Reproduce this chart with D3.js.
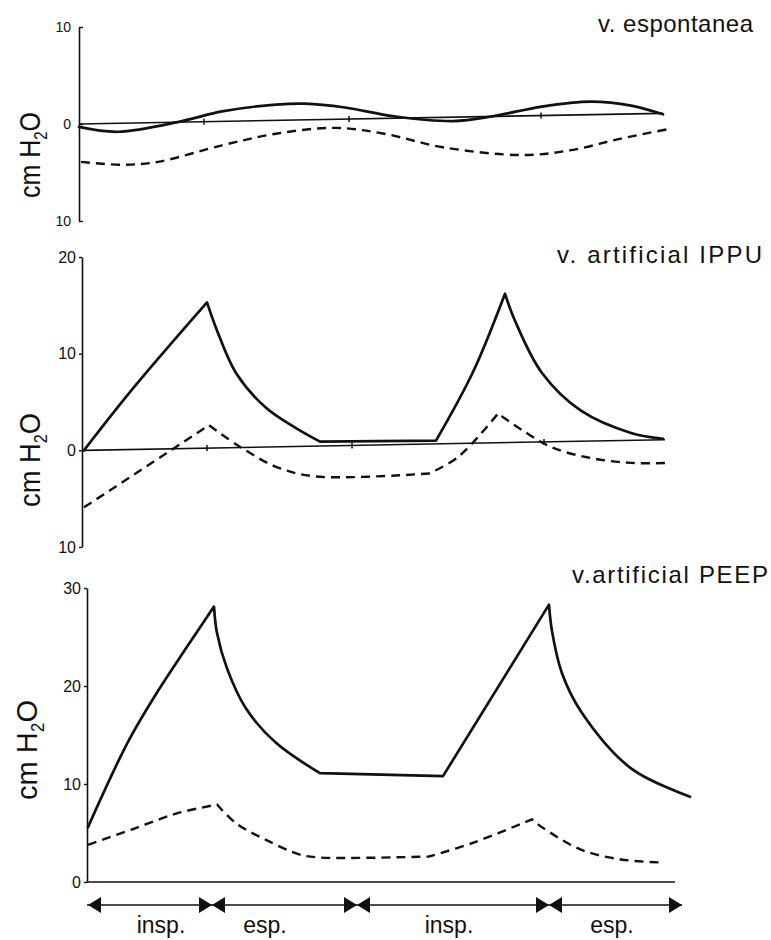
<!DOCTYPE html>
<html>
<head>
<meta charset="utf-8">
<script src="https://cdn.jsdelivr.net/npm/d3@7"></script>
<style>
  body { margin: 0; background: #fff; }
  svg { display: block; font-family: "Liberation Sans", Arial, Helvetica, sans-serif; }
</style>
</head>
<body>
<svg id="chart" width="771" height="940"></svg>
<script>
// time runs 0..6 (arbitrary units) across every panel
const phaseBounds = [1.25, 2.7, 4.62];
const phaseEnd = 5.95;
const phaseLabels = ['insp.', 'esp.', 'insp.', 'esp.'];
const phaseLabelT = [0.74, 1.78, 3.62, 5.25];

// v. espontanea (cm H2O, downward = negative)
const spontTicks = [-10, 0, 10];
const spontSolid = [[0, -0.3], [0.39, -0.8], [1.03, 0.3], [1.43, 1.3], [1.97, 2.0], [2.26, 2.1], [2.66, 1.7],
  [3.15, 0.8], [3.74, 0.3], [4.14, 0.8], [4.63, 1.8], [5.12, 2.3], [5.52, 1.9], [5.84, 1.0]];
const spontDashed = [[0.02, -3.9], [0.44, -4.2], [0.79, -3.9], [1.43, -2.2], [1.97, -1.0], [2.56, -0.4],
  [3.05, -1.0], [3.64, -2.4], [4.43, -3.2], [4.92, -2.7], [5.42, -1.5], [5.91, -0.5]];
const spontBase = [[0, 0], [5.84, 1.1]];

// v. artificial IPPU
const ippuTicks = [-10, 0, 10, 20];
const ippuSolid = [[0.02, 0], [0.51, 6.4], [1.25, 15.3], [1.35, 12.4], [1.54, 8.0], [1.84, 4.4], [2.14, 2.3],
  [2.38, 0.9], [3.54, 1.0], [3.91, 8.1], [4.23, 16.2], [4.33, 13.4], [4.6, 8.0], [4.99, 4.1], [5.49, 1.8], [5.81, 1.2]];
const ippuSolidCorners = [1.25, 2.38, 3.54, 4.23];
const ippuDashed = [[0.02, -5.9], [1.27, 2.6], [1.59, 0.3], [1.94, -1.7], [2.33, -2.7], [3.47, -2.4], [3.76, -0.7],
  [4.16, 3.8], [4.4, 2.1], [4.7, 0.3], [5.09, -0.8], [5.49, -1.3], [5.88, -1.3]];
const ippuDashedCorners = [1.27, 3.47, 4.16];
const ippuBase = [[0.02, 0], [5.83, 1.1]];

// v. artificial PEEP
const peepTicks = [0, 10, 20, 30];
const peepSolid = [[0.01, 5.6], [0.41, 14.3], [0.71, 19.5], [1.0, 24.0], [1.27, 28.1], [1.3, 25.4], [1.4, 21.8],
  [1.59, 17.7], [1.89, 14.2], [2.33, 11.1], [3.56, 10.8], [4.62, 28.3], [4.65, 25.6], [4.75, 21.3], [4.94, 17.4],
  [5.44, 11.6], [6.03, 8.7]];
const peepSolidCorners = [1.27, 2.33, 3.56, 4.62];
const peepDashed = [[0.01, 3.8], [0.46, 5.4], [0.9, 7.0], [1.3, 7.9], [1.49, 6.0], [1.79, 4.3], [2.13, 2.8],
  [2.33, 2.5], [3.42, 2.6], [3.86, 4.0], [4.45, 6.4], [4.55, 5.6], [4.94, 3.3], [5.34, 2.3], [5.73, 2.0]];
const peepDashedCorners = [1.3, 3.42, 4.45];
const peepBase = [[0, 0], [5.88, 0]];

const ink = '#111';

const panels = [
  { title: 'v. espontanea', titleX: 598, titleY: 32, titleLen: 155,
    x0: 79, domain: [-10, 10], range: [221, 27], ticks: spontTicks, tickSize: -4, tickPad: 8, tickFont: 14,
    solid: spontSolid, solidCorners: [], dashed: spontDashed, dashedCorners: [], base: spontBase, baseTicks: true,
    labelX: 40, labelY: 155, labelLen: 86 },
  { title: 'v. artificial IPPU', titleX: 557, titleY: 263, titleLen: 205,
    x0: 82, domain: [-10, 20], range: [547, 257], ticks: ippuTicks, tickSize: 3, tickPad: 3, tickFont: 16,
    solid: ippuSolid, solidCorners: ippuSolidCorners, dashed: ippuDashed, dashedCorners: ippuDashedCorners,
    base: ippuBase, baseTicks: true,
    labelX: 40, labelY: 460, labelLen: 94 },
  { title: 'v.artificial PEEP', titleX: 572, titleY: 583, titleLen: 196,
    x0: 87, domain: [0, 30], range: [882, 588], ticks: peepTicks, tickSize: 3, tickPad: 3, tickFont: 16,
    solid: peepSolid, solidCorners: peepSolidCorners, dashed: peepDashed, dashedCorners: peepDashedCorners,
    base: peepBase, baseTicks: false,
    labelX: 37, labelY: 750, labelLen: 100 }
];

const svg = d3.select('#chart');
svg.append('rect').attr('width', 771).attr('height', 940).attr('fill', '#fff');

// join curve pieces so the peaks stay sharp but the dashes keep running
function cuspPath(line, pts, corners) {
  const parts = [];
  let cur = [];
  pts.forEach(p => {
    cur.push(p);
    if (corners.includes(p[0]) && cur.length > 1) {
      parts.push(cur);
      cur = [p];
    }
  });
  if (cur.length > 1) parts.push(cur);
  return parts.map((part, i) => {
    const d = line(part);
    return i === 0 ? d : d.replace(/^M[^LC]*/, '');
  }).join('');
}

let lastX, lastY;

panels.forEach(p => {
  const x = d3.scaleLinear().domain([0, 6]).range([p.x0, p.x0 + 600]);
  const y = d3.scaleLinear().domain(p.domain).range(p.range);
  lastX = x; lastY = y;

  const g = svg.append('g');

  // y axis
  const axis = g.append('g')
    .attr('transform', `translate(${p.x0},0)`)
    .call(d3.axisLeft(y)
      .tickValues(p.ticks)
      .tickSizeInner(p.tickSize)
      .tickSizeOuter(0)
      .tickPadding(p.tickPad)
      .tickFormat(d => Math.abs(d)));
  axis.select('.domain').attr('stroke', ink).attr('stroke-width', 1.6);
  axis.selectAll('.tick line').attr('stroke', ink).attr('stroke-width', 1.4);
  axis.selectAll('.tick text')
    .attr('fill', ink)
    .style('font-size', p.tickFont + 'px')
    .style('font-family', '"Liberation Sans", Arial, sans-serif');

  const line = d3.line().x(d => x(d[0])).y(d => y(d[1])).curve(d3.curveCatmullRom.alpha(0.5));

  // zero line
  g.append('path')
    .attr('d', d3.line().x(d => x(d[0])).y(d => y(d[1]))(p.base))
    .attr('fill', 'none')
    .attr('stroke', ink)
    .attr('stroke-width', 1.6);

  if (p.baseTicks) {
    const bx = p.base.map(d => d[0]);
    const by = p.base.map(d => d[1]);
    phaseBounds.forEach(t => {
      const v = by[0] + (by[1] - by[0]) * (t - bx[0]) / (bx[1] - bx[0]);
      g.append('line')
        .attr('x1', x(t)).attr('x2', x(t))
        .attr('y1', y(v) - 3).attr('y2', y(v) + 3)
        .attr('stroke', ink).attr('stroke-width', 1.5);
    });
  }

  // dashed curve
  g.append('path')
    .attr('d', cuspPath(line, p.dashed, p.dashedCorners))
    .attr('fill', 'none')
    .attr('stroke', ink)
    .attr('stroke-width', 2.4)
    .attr('stroke-dasharray', '9,6');

  // solid curve
  g.append('path')
    .attr('d', cuspPath(line, p.solid, p.solidCorners))
    .attr('fill', 'none')
    .attr('stroke', ink)
    .attr('stroke-width', 2.7)
    .attr('stroke-linejoin', 'round')
    .attr('stroke-linecap', 'round');

  // panel title
  g.append('text')
    .attr('x', p.titleX)
    .attr('y', p.titleY)
    .attr('textLength', p.titleLen)
    .attr('lengthAdjust', 'spacing')
    .attr('fill', ink)
    .style('font-size', '24px')
    .text(p.title);

  // y label
  const lab = g.append('text')
    .attr('transform', `translate(${p.labelX},${p.labelY}) rotate(-90)`)
    .attr('text-anchor', 'middle')
    .attr('textLength', p.labelLen)
    .attr('lengthAdjust', 'spacingAndGlyphs')
    .attr('fill', ink)
    .style('font-size', '30px');
  lab.append('tspan').text('cm H');
  lab.append('tspan').attr('dy', 7).style('font-size', '18px').text('2');
  lab.append('tspan').attr('dy', -7).text('O');
});

// phase arrows under the last panel
const ay = lastY(0) + 23;
const ag = svg.append('g');
ag.append('line')
  .attr('x1', lastX(0)).attr('x2', lastX(phaseEnd))
  .attr('y1', ay).attr('y2', ay)
  .attr('stroke', ink).attr('stroke-width', 1.5);

const tri = (tip, dir) => {
  const b = tip - dir * 13;
  return `M${tip},${ay}L${b},${ay - 8}L${b},${ay + 8}Z`;
};
ag.append('path').attr('d', tri(lastX(0) + 1, -1)).attr('fill', ink);
ag.append('path').attr('d', tri(lastX(phaseEnd), 1)).attr('fill', ink);
phaseBounds.forEach(t => {
  ag.append('path').attr('d', tri(lastX(t), 1)).attr('fill', ink);
  ag.append('path').attr('d', tri(lastX(t), -1)).attr('fill', ink);
});

ag.selectAll('.phase')
  .data(phaseLabels)
  .enter()
  .append('text')
  .attr('class', 'phase')
  .attr('x', (d, i) => lastX(phaseLabelT[i]))
  .attr('y', 933)
  .attr('text-anchor', 'middle')
  .attr('fill', ink)
  .style('font-size', '23px')
  .text(d => d);
</script>
</body>
</html>
